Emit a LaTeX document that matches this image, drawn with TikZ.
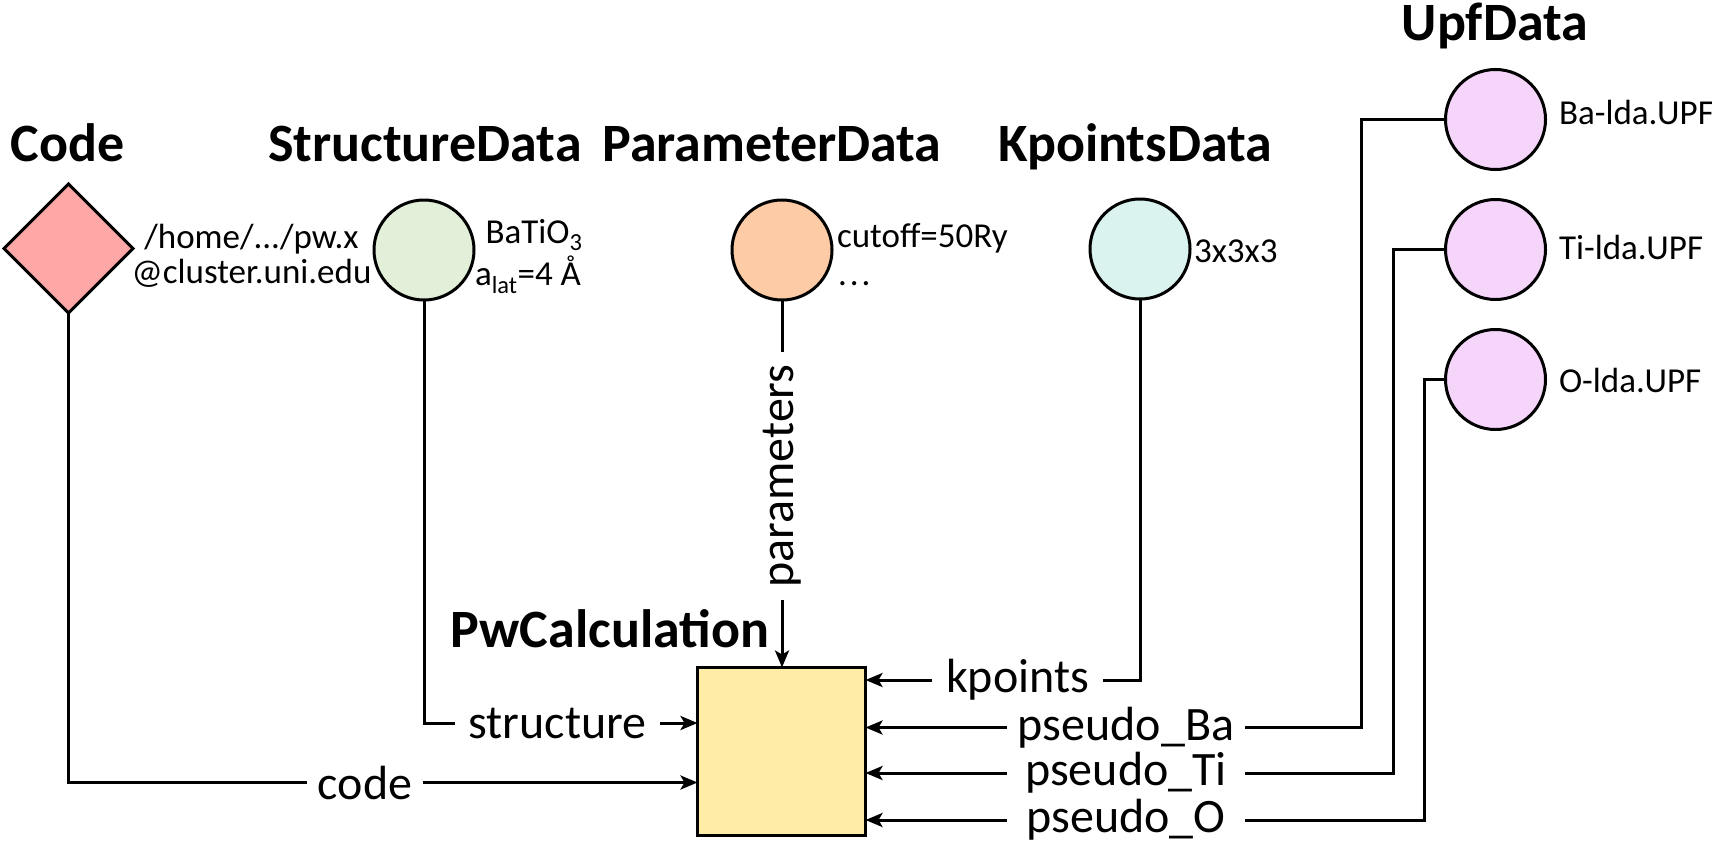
\documentclass[tikz,border=0pt]{standalone}
\usepackage{fontspec}
\setmainfont{Carlito}
\usetikzlibrary{shapes.geometric,arrows.meta}

\definecolor{codefill}{HTML}{FFA6A6}
\definecolor{strfill}{HTML}{E2F0D9}
\definecolor{parfill}{HTML}{FDCBA6}
\definecolor{kptfill}{HTML}{DAF3EE}
\definecolor{upffill}{HTML}{F6D5FB}
\definecolor{calcfill}{HTML}{FFECA6}

\begin{document}
\begin{tikzpicture}[x=1pt,y=-1pt,
  every node/.style={inner sep=0pt, outer sep=0pt},
  title/.style={font=\fontsize{54}{60}\selectfont\bfseries, anchor=base},
  lbl/.style={font=\fontsize{48}{56}\selectfont},
  small/.style={font=\fontsize{35}{42}\selectfont},
  conn/.style={line width=3pt},
  arr/.style={line width=3pt, -{Stealth[length=17pt,width=14pt,inset=4pt]}},
  datanode/.style={circle, draw, line width=3pt, minimum size=100pt},
]
\useasboundingbox (0,0) rectangle (1712,843);

% shapes
\node[diamond, draw, line width=3pt, fill=codefill, minimum width=129pt, minimum height=129pt, aspect=1] (code) at (68.5,248.5) {};
\node[datanode, fill=strfill] (str) at (424,250) {};
\node[datanode, fill=parfill] (par) at (782,250) {};
\node[datanode, fill=kptfill] (kpt) at (1140,249) {};
\node[datanode, fill=upffill] (ba) at (1495.5,119.5) {};
\node[datanode, fill=upffill] (ti) at (1495.5,249.5) {};
\node[datanode, fill=upffill] (ox) at (1495.5,379.5) {};
\node[draw, line width=3pt, fill=calcfill, minimum size=168pt] (calc) at (781.5,751.5) {};

% titles
\node[title] (tCode) at (67.5,161) {Code};
\node[title] (tStr) at (425,161) {StructureData};
\node[title] (tPar) at (772,161) {ParameterData};
\node[title] (tKpt) at (1135,161) {KpointsData};
\node[title] (tUpf) at (1495,41) {UpfData};
\node[title] (tCalc) at (610,647) {PwCalculation};

% small texts
\node[small, anchor=base] (path1) at (251.5,248) {/home/.../pw.x};
\node[small, anchor=base] (path2) at (251.5,283) {@cluster.uni.edu};
\node[small, anchor=base] (s1) at (534,243) {BaTiO\textsubscript{3}};
\node[small, anchor=base] (s2) at (528,285) {a\textsubscript{lat}=4 Å};
\node[small, anchor=base west] (p1) at (837,247) {cutoff=50Ry};
\node[small, anchor=base west] (p2) at (838,285) {.\kern3pt.\kern3pt.};
\node[small, anchor=base west] (k1) at (1194,262) {3x3x3};
\node[small, anchor=base west] (u1) at (1559,124) {Ba-lda.UPF};
\node[small, anchor=base west] (u2) at (1559,259) {Ti-lda.UPF};
\node[small, anchor=base west] (u3) at (1559,392) {O-lda.UPF};

% connector labels
\node[lbl, minimum width=116pt] (lCode) at (365,782.5) {code};
\node[lbl, minimum width=205pt] (lStr) at (557.5,723) {structure};
\node[lbl, minimum width=248pt, rotate=90] (lPar) at (782,476) {parameters};
\node[lbl, minimum width=171pt] (lKpt) at (1017.5,680) {kpoints};
\node[lbl, minimum width=238pt] (lBa) at (1126,727.5) {pseudo\_Ba};
\node[lbl, minimum width=238pt] (lTi) at (1126,773) {pseudo\_Ti};
\node[lbl, minimum width=238pt] (lO) at (1126,820) {pseudo\_O};

\coordinate (cBa) at (1361,0);
\coordinate (cTi) at (1393,0);
\coordinate (cO) at (1424,0);

% connectors
\draw[conn] (code.south) |- (lCode.west);
\draw[arr] (lCode.east) -- (lCode.east -| calc.west);
\draw[conn] (str.south) |- (lStr.west);
\draw[arr] (lStr.east) -- (lStr.east -| calc.west);
\draw[conn] (par.south) -- (lPar.east);
\draw[arr] (lPar.west) -- (lPar.west |- calc.north);
\draw[conn] (kpt.south) |- (lKpt.east);
\draw[arr] (lKpt.west) -- (lKpt.west -| calc.east);
\draw[conn] (ba.west) -| (cBa |- lBa.east) -- (lBa.east);
\draw[arr] (lBa.west) -- (lBa.west -| calc.east);
\draw[conn] (ti.west) -| (cTi |- lTi.east) -- (lTi.east);
\draw[arr] (lTi.west) -- (lTi.west -| calc.east);
\draw[conn] (ox.west) -| (cO |- lO.east) -- (lO.east);
\draw[arr] (lO.west) -- (lO.west -| calc.east);
\end{tikzpicture}
\end{document}
